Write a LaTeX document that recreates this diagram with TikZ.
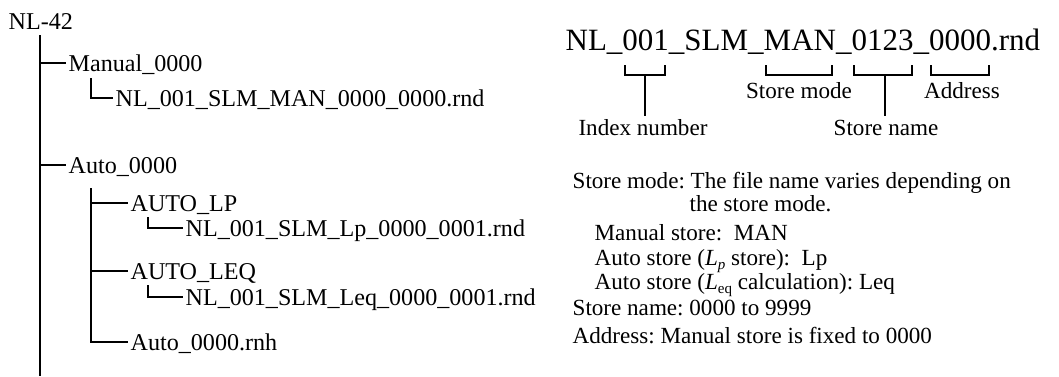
\documentclass[tikz,border=0pt]{standalone}
\usepackage{fontspec}
\setmainfont{Liberation Serif}
\frenchspacing
\newcommand\lowsub[1]{\raisebox{-0.18em}{\fontsize{15}{15}\selectfont #1}}

\begin{document}
\begin{tikzpicture}[
  x=1pt, y=-1pt,
  line width=1.3pt,
  entry/.style={anchor=west, inner xsep=2pt, inner ysep=0pt, text height=16pt, text depth=0pt, font=\fontsize{24.1}{27}\selectfont},
  desc/.style={anchor=base west, inner sep=0pt, font=\fontsize{23.1}{26}\selectfont},
  part/.style={anchor=base, inner xsep=0pt, inner ysep=3pt, text height=15.3pt, text depth=0pt, font=\fontsize{23.1}{26}\selectfont}
]
\useasboundingbox (0,0) rectangle (1059,376);

% folder tree
\node[entry] (root) at (6,21) {NL-42};
\node[entry] (man) at (66,63) {Manual\_0000};
\node[entry] (manfile) at (113,98) {NL\_001\_SLM\_MAN\_0000\_0000.rnd};
\node[entry] (auto) at (66,165) {Auto\_0000};
\node[entry] (autolp) at (128,203) {AUTO\_LP};
\node[entry] (lpfile) at (183,228) {NL\_001\_SLM\_Lp\_0000\_0001.rnd};
\node[entry] (autoleq) at (128,271) {AUTO\_LEQ};
\node[entry] (leqfile) at (183,297) {NL\_001\_SLM\_Leq\_0000\_0001.rnd};
\node[entry] (rnh) at (128,342) {Auto\_0000.rnh};

\coordinate (trunktop) at (40,35);
\coordinate (trunkend) at (40,376);
\coordinate (mansub) at (91,78);
\coordinate (autosub) at (91,188);
\coordinate (lpsub) at (148,217);
\coordinate (leqsub) at (148,285);

\draw (trunktop) -- (trunkend);
\draw (man.west -| trunktop) -- (man.west);
\draw (auto.west -| trunktop) -- (auto.west);
\draw (mansub) |- (manfile.west);
\draw (autosub) |- (rnh.west);
\draw (autolp.west -| autosub) -- (autolp.west);
\draw (autoleq.west -| autosub) -- (autoleq.west);
\draw (lpsub) |- (lpfile.west);
\draw (leqsub) |- (leqfile.west);

% file name parts
\node[anchor=base west, inner sep=0pt, font=\fontsize{31}{34}\selectfont] (fname) at (565,50) {NL\_001\_SLM\_MAN\_0123\_0000.rnd};

\draw (625,65) |- (665,75) -- (665,65);
\draw (766,65) |- (832,75) -- (832,65);
\draw (854,65) |- (912,75) -- (912,65);
\draw (931,65) |- (989,75) -- (989,65);

\coordinate (idxmid) at (645,75);
\coordinate (namemid) at (885,75);
\node[part] (idxlab) at (643,135) {Index number};
\node[part] (namelab) at (886,135) {Store name};
\node[part] (modelab) at (799,98) {Store mode};
\node[part] (addrlab) at (962,98) {Address};
\draw (idxmid) -- (idxmid |- idxlab.north);
\draw (namemid) -- (namemid |- namelab.north);

% notes
\node[desc] (d1) at (572,188) {Store mode: The file name varies depending on};
\node[desc] (d2) at (689,211) {the store mode.};
\node[desc] (d3) at (594,240) {Manual store:\ \ MAN};
\node[desc] (d4) at (594,265) {Auto store (\textit{L}\lowsub{\textit{p}} store):\ \ Lp};
\node[desc] (d5) at (594,289) {Auto store (\textit{L}\lowsub{eq} calculation): Leq};
\node[desc] (d6) at (572,315) {Store name: 0000 to 9999};
\node[desc] (d7) at (572,343) {Address: Manual store is fixed to 0000};
\end{tikzpicture}
\end{document}
